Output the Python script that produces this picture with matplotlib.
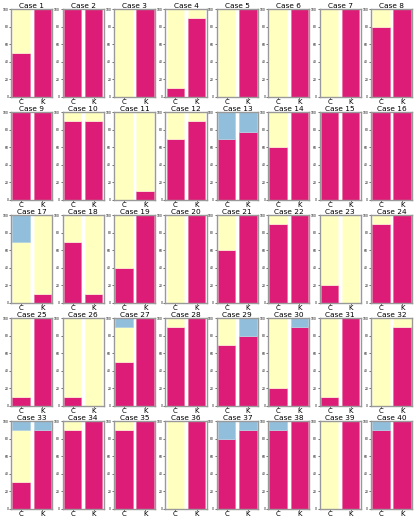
from matplotlib import pyplot as plt
import numpy as np

cases = ["Case %d" % i for i in range(1, 41)]
groups = ["C", "K"]

# (C, K) values per case for each stacked segment
magenta = [(50, 100), (100, 100), (0, 100), (10, 90), (0, 100), (0, 100), (0, 100), (80, 100),
           (100, 100), (90, 90), (0, 10), (70, 90), (70, 78), (60, 100), (100, 100), (100, 100),
           (0, 10), (70, 10), (40, 100), (0, 100), (60, 100), (90, 100), (20, 0), (90, 100),
           (10, 100), (10, 0), (50, 100), (90, 100), (70, 80), (20, 90), (10, 100), (0, 90),
           (30, 90), (90, 100), (90, 100), (0, 100), (80, 90), (90, 100), (0, 100), (90, 100)]
yellow = [(50, 0), (0, 0), (100, 0), (90, 10), (100, 0), (100, 0), (100, 0), (20, 0),
          (0, 0), (10, 10), (100, 90), (30, 10), (0, 0), (40, 0), (0, 0), (0, 0),
          (70, 90), (30, 90), (60, 0), (100, 0), (40, 0), (10, 0), (80, 100), (10, 0),
          (90, 0), (90, 100), (40, 0), (10, 0), (30, 0), (80, 0), (90, 0), (100, 10),
          (60, 0), (10, 0), (10, 0), (100, 0), (0, 0), (0, 0), (100, 0), (0, 0)]
blue = [(0, 0), (0, 0), (0, 0), (0, 0), (0, 0), (0, 0), (0, 0), (0, 0),
        (0, 0), (0, 0), (0, 0), (0, 0), (30, 22), (0, 0), (0, 0), (0, 0),
        (30, 0), (0, 0), (0, 0), (0, 0), (0, 0), (0, 0), (0, 0), (0, 0),
        (0, 0), (0, 0), (10, 0), (0, 0), (0, 20), (0, 10), (0, 0), (0, 0),
        (10, 10), (0, 0), (0, 0), (0, 0), (20, 10), (10, 0), (0, 0), (10, 0)]

col_m = "#dd1c77"
col_y = "#ffffbf"
col_b = "#91bfdb"

fig = plt.figure(figsize=(4.15, 5.19), dpi=100)
gs = plt.GridSpec(5, 8, left=0.027, right=0.993, top=0.982, bottom=0.02,
                  wspace=0.25, hspace=0.18)

x = np.arange(len(groups))
for i, name in enumerate(cases):
    ax = fig.add_subplot(gs[i // 8, i % 8])
    m = np.array(magenta[i])
    y = np.array(yellow[i])
    b = np.array(blue[i])
    ax.bar(x, m, width=0.82, color=col_m, edgecolor="#e8679f", linewidth=0.4)
    ax.bar(x, y, width=0.82, bottom=m, color=col_y, edgecolor="#ffffe0", linewidth=0.4)
    ax.bar(x, b, width=0.82, bottom=m + y, color=col_b, edgecolor="#a9cde4", linewidth=0.4)
    ax.set_xlim(-0.47, 1.47)
    ax.set_ylim(0, 100)
    ax.set_xticks(x)
    ax.set_xticklabels(groups, fontsize=5)
    ax.set_yticks([0, 20, 40, 60, 80, 100])
    ax.tick_params(axis="y", labelsize=2.2, length=1.2, width=0.4, pad=0.8)
    ax.tick_params(axis="x", length=1.2, width=0.4, pad=0.4)
    ax.set_title(name, fontsize=5.3, pad=1)
    for s in ax.spines.values():
        s.set_color("#999999")
        s.set_linewidth(1.0)

fig.savefig("out.png", dpi=100)
